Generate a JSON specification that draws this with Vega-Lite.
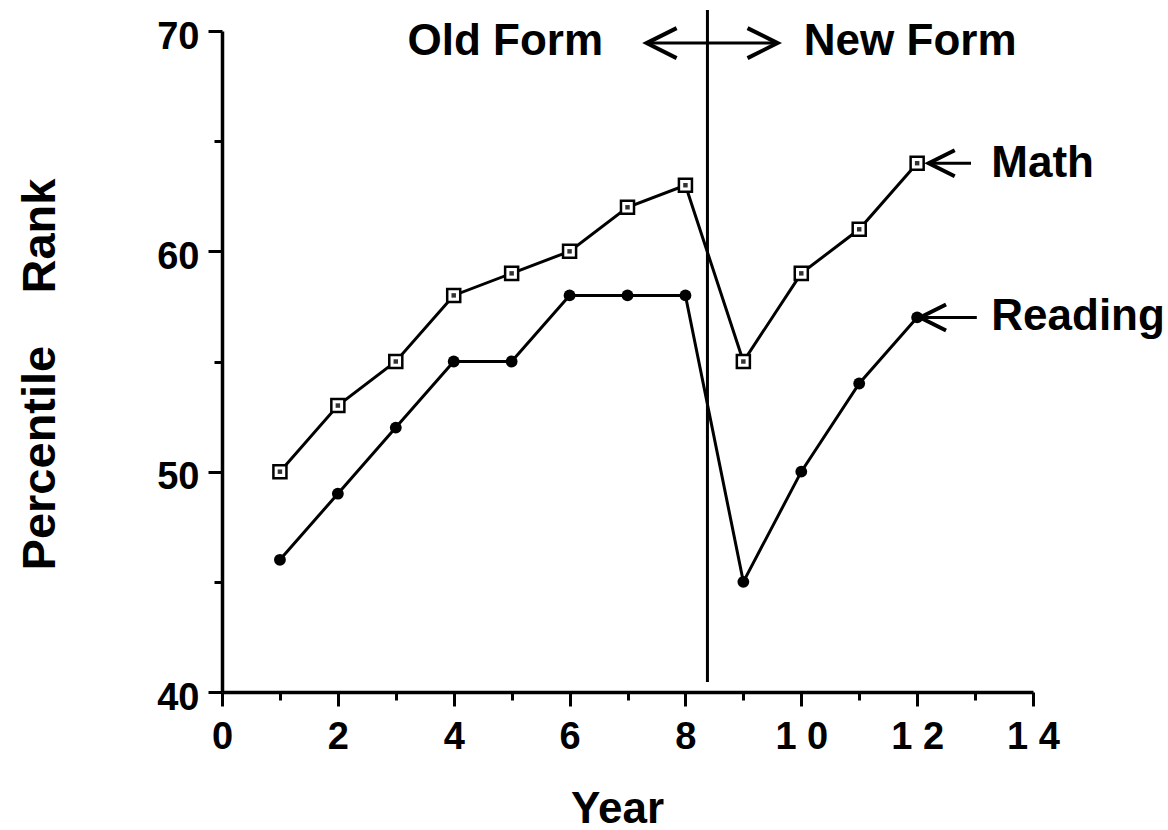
{
  "$schema": "https://vega.github.io/schema/vega-lite/v6.json",
  "autosize": "none",
  "width": 811,
  "height": 661,
  "padding": {"left": 222, "top": 31, "right": 135, "bottom": 138},
  "background": "white",
  "config": {
    "view": {"stroke": null},
    "font": "Liberation Sans",
    "axis": {"grid": false, "domainColor": "black", "tickColor": "black", "domainWidth": 3.5, "tickWidth": 3,
      "labelFont": "Liberation Sans", "labelFontWeight": "bold", "labelFontSize": 38, "labelColor": "black",
      "labelFlush": false, "labelOverlap": false,
      "titleFont": "Liberation Sans", "titleFontWeight": "bold", "titleColor": "black"}
  },
  "datasets": {
    "scores": [
      {"year": 1, "score": 50, "subject": "Math"},
      {"year": 2, "score": 53, "subject": "Math"},
      {"year": 3, "score": 55, "subject": "Math"},
      {"year": 4, "score": 58, "subject": "Math"},
      {"year": 5, "score": 59, "subject": "Math"},
      {"year": 6, "score": 60, "subject": "Math"},
      {"year": 7, "score": 62, "subject": "Math"},
      {"year": 8, "score": 63, "subject": "Math"},
      {"year": 9, "score": 55, "subject": "Math"},
      {"year": 10, "score": 59, "subject": "Math"},
      {"year": 11, "score": 61, "subject": "Math"},
      {"year": 12, "score": 64, "subject": "Math"},
      {"year": 1, "score": 46, "subject": "Reading"},
      {"year": 2, "score": 49, "subject": "Reading"},
      {"year": 3, "score": 52, "subject": "Reading"},
      {"year": 4, "score": 55, "subject": "Reading"},
      {"year": 5, "score": 55, "subject": "Reading"},
      {"year": 6, "score": 58, "subject": "Reading"},
      {"year": 7, "score": 58, "subject": "Reading"},
      {"year": 8, "score": 58, "subject": "Reading"},
      {"year": 9, "score": 45, "subject": "Reading"},
      {"year": 10, "score": 50, "subject": "Reading"},
      {"year": 11, "score": 54, "subject": "Reading"},
      {"year": 12, "score": 57, "subject": "Reading"}
    ],
    "labels": [
      {"text": "Old Form", "x": 4.89, "y": 69.5},
      {"text": "New Form", "x": 11.88, "y": 69.5},
      {"text": "Math", "x": 13.28, "y": 63.95},
      {"text": "Reading", "x": 13.28, "y": 57.0}
    ],
    "divider": [{"x": 8.38, "y": 40.45, "y2": 70.95}],
    "arrows": [
      {"x": 7.33, "x2": 9.59, "y": 69.45},
      {"x": 12.2, "x2": 12.93, "y": 64.0},
      {"x": 12.05, "x2": 13.03, "y": 57.0}
    ],
    "heads": [
      {"x": 7.33, "y": 69.45, "dir": "left", "kind": "form"},
      {"x": 9.59, "y": 69.45, "dir": "right", "kind": "form"},
      {"x": 12.2, "y": 64.0, "dir": "left", "kind": "series"},
      {"x": 12.05, "y": 57.0, "dir": "left", "kind": "series"}
    ]
  },
  "encoding": {
    "x": {"field": "year", "type": "quantitative",
      "scale": {"domain": [0, 14], "nice": false, "zero": false},
      "axis": {"values": [0,1,2,3,4,5,6,7,8,9,10,11,12,13,14],
        "labelExpr": "datum.value % 2 === 0 ? (datum.value >= 10 ? floor(datum.value/10) + ' ' + (datum.value % 10) : datum.label) : ''",
        "tickSize": {"condition": {"test": "datum.value % 2 === 0", "value": 14}, "value": 8},
        "labelPadding": 12,
        "title": "Year", "titleFontSize": 44, "titleX": 395, "titleY": 130, "titleBaseline": "alphabetic", "titleAlign": "center"}},
    "y": {"field": "score", "type": "quantitative",
      "scale": {"domain": [40, 70], "nice": false, "zero": false},
      "axis": {"values": [40,45,50,55,60,65,70],
        "labelExpr": "datum.value % 10 === 0 ? datum.label : ''",
        "tickSize": {"condition": {"test": "datum.value % 10 === 0", "value": 14}, "value": 8},
        "labelPadding": 9, "labelOffset": 6,
        "title": "Percentile\u00a0\u00a0\u00a0\u00a0Rank", "titleFontSize": 47, "titleX": -182, "titleY": 343,
        "titleAngle": -90, "titleAlign": "center", "titleBaseline": "middle"}}
  },
  "layer": [
    {"data": {"name": "scores"},
     "mark": {"type": "line", "color": "black", "strokeWidth": 3},
     "encoding": {"detail": {"field": "subject"}}},
    {"data": {"name": "scores"},
     "transform": [{"filter": "datum.subject === 'Math'"}],
     "mark": {"type": "point", "shape": "square", "filled": true, "fill": "white", "stroke": "black", "strokeWidth": 2.5, "size": 170, "opacity": 1}},
    {"data": {"name": "scores"},
     "transform": [{"filter": "datum.subject === 'Math'"}],
     "mark": {"type": "point", "shape": "square", "filled": true, "color": "#333333", "size": 20, "opacity": 1}},
    {"data": {"name": "scores"},
     "transform": [{"filter": "datum.subject === 'Reading'"}],
     "mark": {"type": "point", "shape": "circle", "filled": true, "color": "black", "size": 140, "opacity": 1}},
    {"data": {"name": "divider"},
     "mark": {"type": "rule", "color": "black", "strokeWidth": 3},
     "encoding": {"x": {"field": "x", "type": "quantitative"}, "y": {"field": "y", "type": "quantitative"}, "y2": {"field": "y2"}}},
    {"data": {"name": "arrows"},
     "mark": {"type": "rule", "color": "black", "strokeWidth": 3},
     "encoding": {"x": {"field": "x", "type": "quantitative"}, "x2": {"field": "x2"}, "y": {"field": "y", "type": "quantitative"}}},
    {"data": {"name": "heads"},
     "transform": [{"filter": "datum.dir === 'left' && datum.kind === 'form'"}],
     "mark": {"type": "point", "shape": "M2,-1L0,0L2,1", "filled": false, "stroke": "black", "strokeWidth": 4, "size": 900, "opacity": 1},
     "encoding": {"x": {"field": "x", "type": "quantitative"}, "y": {"field": "y", "type": "quantitative"}}},
    {"data": {"name": "heads"},
     "transform": [{"filter": "datum.dir === 'right'"}],
     "mark": {"type": "point", "shape": "M-2,-1L0,0L-2,1", "filled": false, "stroke": "black", "strokeWidth": 4, "size": 900, "opacity": 1},
     "encoding": {"x": {"field": "x", "type": "quantitative"}, "y": {"field": "y", "type": "quantitative"}}},
    {"data": {"name": "heads"},
     "transform": [{"filter": "datum.dir === 'left' && datum.kind === 'series'"}],
     "mark": {"type": "point", "shape": "M2,-1L0,0L2,1", "filled": false, "stroke": "black", "strokeWidth": 4, "size": 676, "opacity": 1},
     "encoding": {"x": {"field": "x", "type": "quantitative"}, "y": {"field": "y", "type": "quantitative"}}},
    {"data": {"name": "labels"},
     "transform": [{"filter": "datum.text === 'Old Form' || datum.text === 'New Form'"}],
     "mark": {"type": "text", "font": "Liberation Sans", "fontWeight": "bold", "fontSize": 44, "color": "black", "align": "center", "baseline": "middle"},
     "encoding": {"x": {"field": "x", "type": "quantitative"}, "y": {"field": "y", "type": "quantitative"}, "text": {"field": "text"}}},
    {"data": {"name": "labels"},
     "transform": [{"filter": "datum.text === 'Math' || datum.text === 'Reading'"}],
     "mark": {"type": "text", "font": "Liberation Sans", "fontWeight": "bold", "fontSize": 44, "color": "black", "align": "left", "baseline": "middle"},
     "encoding": {"x": {"field": "x", "type": "quantitative"}, "y": {"field": "y", "type": "quantitative"}, "text": {"field": "text"}}}
  ]
}
